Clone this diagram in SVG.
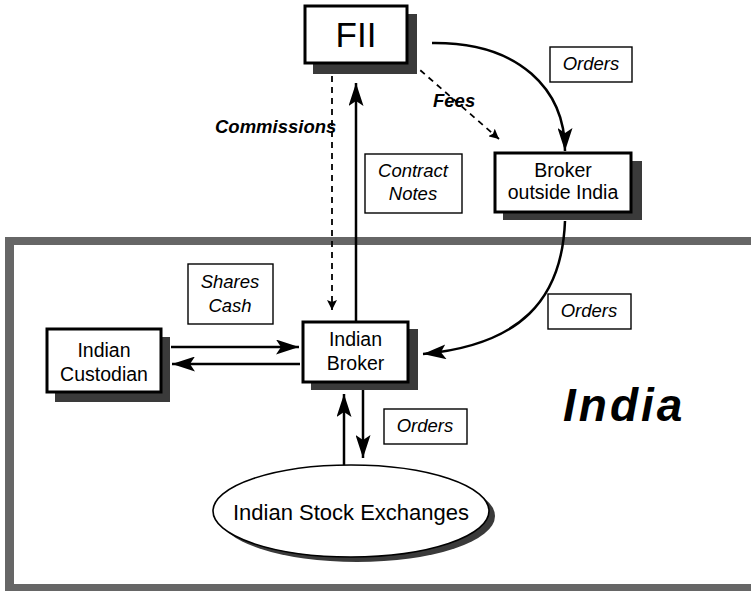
<svg xmlns="http://www.w3.org/2000/svg" width="751" height="591" viewBox="0 0 751 591">
  <style>
    .box { fill: #fff; stroke: #000; stroke-width: 3; }
    .shadow { fill: #3a3a3a; }
    .lbl { fill: #fff; stroke: #000; stroke-width: 1.4; }
    .t { font-family: "Liberation Sans", Arial, sans-serif; font-size: 19.5px; fill: #000; text-anchor: middle; }
    .ti { font-family: "Liberation Sans", Arial, sans-serif; font-size: 18.5px; font-style: italic; fill: #000; text-anchor: middle; }
    .tb { font-family: "Liberation Sans", Arial, sans-serif; font-size: 18.5px; font-style: italic; font-weight: bold; fill: #000; }
    .solid { fill: none; stroke: #000; stroke-width: 2.5; }
    .dash { fill: none; stroke: #000; stroke-width: 1.8; stroke-dasharray: 6 5; }
  </style>
  <defs>
    <marker id="big" markerUnits="userSpaceOnUse" markerWidth="24" markerHeight="15" viewBox="0 0 24 15" refX="23" refY="7.5" orient="auto">
      <path d="M0,0 L23,7.5 L0,15 L5,7.5 Z" fill="#000"/>
    </marker>
    <marker id="small" markerUnits="userSpaceOnUse" markerWidth="11" markerHeight="10" viewBox="0 0 11 10" refX="10" refY="5" orient="auto">
      <path d="M0,0 L10,5 L0,10 L2,5 Z" fill="#000"/>
    </marker>
  </defs>

  <rect width="751" height="591" fill="#fff"/>

  <!-- India boundary -->
  <g id="india">
    <path d="M5,237 H751 V245 H14 V584 H751 V591 H5 Z" fill="#666"/>
    <text x="563" y="421" font-family="Liberation Sans, Arial, sans-serif" font-size="46" font-weight="bold" font-style="italic" letter-spacing="3">India</text>
  </g>

  <!-- connectors -->
  <g id="connectors">
    <path class="solid" d="M432,43 C520,42 565,90 565,151" marker-end="url(#big)"/>
    <path class="dash" d="M412,63 L499,139" marker-end="url(#small)"/>
    <path class="dash" d="M332,76 L332,310" marker-end="url(#small)"/>
    <path class="solid" d="M356,322 L356,83" marker-end="url(#big)"/>
    <path class="solid" d="M565,221 C562,300 520,345 423,354" marker-end="url(#big)"/>
    <path class="solid" d="M171,347 L299,347" marker-end="url(#big)"/>
    <path class="solid" d="M300,364 L172,364" marker-end="url(#big)"/>
    <path class="solid" d="M344,466 L344,394" marker-end="url(#big)"/>
    <path class="solid" d="M363,390 L363,458" marker-end="url(#big)"/>
  </g>

  <!-- FII -->
  <g id="fii">
    <rect class="shadow" x="313" y="14" width="104" height="60"/>
    <rect class="box" x="305" y="6" width="102" height="57"/>
    <text class="t" x="356" y="47" style="font-size:35px">FII</text>
  </g>

  <!-- Broker outside India -->
  <g id="broker-outside">
    <rect class="shadow" x="503" y="161" width="139" height="59"/>
    <rect class="box" x="495" y="153" width="136" height="59"/>
    <text class="t" x="563" y="177">Broker</text>
    <text class="t" x="563" y="199">outside India</text>
  </g>

  <!-- Indian Broker -->
  <g id="indian-broker">
    <rect class="shadow" x="311" y="329" width="107" height="61"/>
    <rect class="box" x="303" y="322" width="105" height="60"/>
    <text class="t" x="355.5" y="346">Indian</text>
    <text class="t" x="355.5" y="370">Broker</text>
  </g>

  <!-- Indian Custodian -->
  <g id="indian-custodian">
    <rect class="shadow" x="55" y="337" width="115" height="65"/>
    <rect class="box" x="47" y="329" width="114" height="63"/>
    <text class="t" x="104" y="357">Indian</text>
    <text class="t" x="104" y="381">Custodian</text>
  </g>

  <!-- Indian Stock Exchanges -->
  <g id="exchanges">
    <ellipse cx="357" cy="516" rx="138" ry="46" class="shadow"/>
    <ellipse cx="351" cy="511" rx="138" ry="46" fill="#fff" stroke="#000" stroke-width="1.6"/>
    <text class="t" x="351" y="520" style="font-size:22px">Indian Stock Exchanges</text>
  </g>

  <!-- flow labels -->
  <g id="label-orders-top">
    <rect class="lbl" x="550" y="47" width="82" height="35"/>
    <text class="ti" x="591" y="70">Orders</text>
  </g>
  <g id="label-fees">
    <text class="tb" x="433" y="107">Fees</text>
  </g>
  <g id="label-commissions">
    <text class="tb" x="215" y="133">Commissions</text>
  </g>
  <g id="label-contract-notes">
    <rect class="lbl" x="365" y="154" width="97" height="59"/>
    <text class="ti" x="413" y="177">Contract</text>
    <text class="ti" x="413" y="200">Notes</text>
  </g>
  <g id="label-shares-cash">
    <rect class="lbl" x="188" y="264" width="85" height="60"/>
    <text class="ti" x="230" y="288">Shares</text>
    <text class="ti" x="230" y="312">Cash</text>
  </g>
  <g id="label-orders-right">
    <rect class="lbl" x="548" y="294" width="83" height="35"/>
    <text class="ti" x="589" y="317">Orders</text>
  </g>
  <g id="label-orders-low">
    <rect class="lbl" x="384" y="409" width="83" height="35"/>
    <text class="ti" x="425" y="432">Orders</text>
  </g>
</svg>
